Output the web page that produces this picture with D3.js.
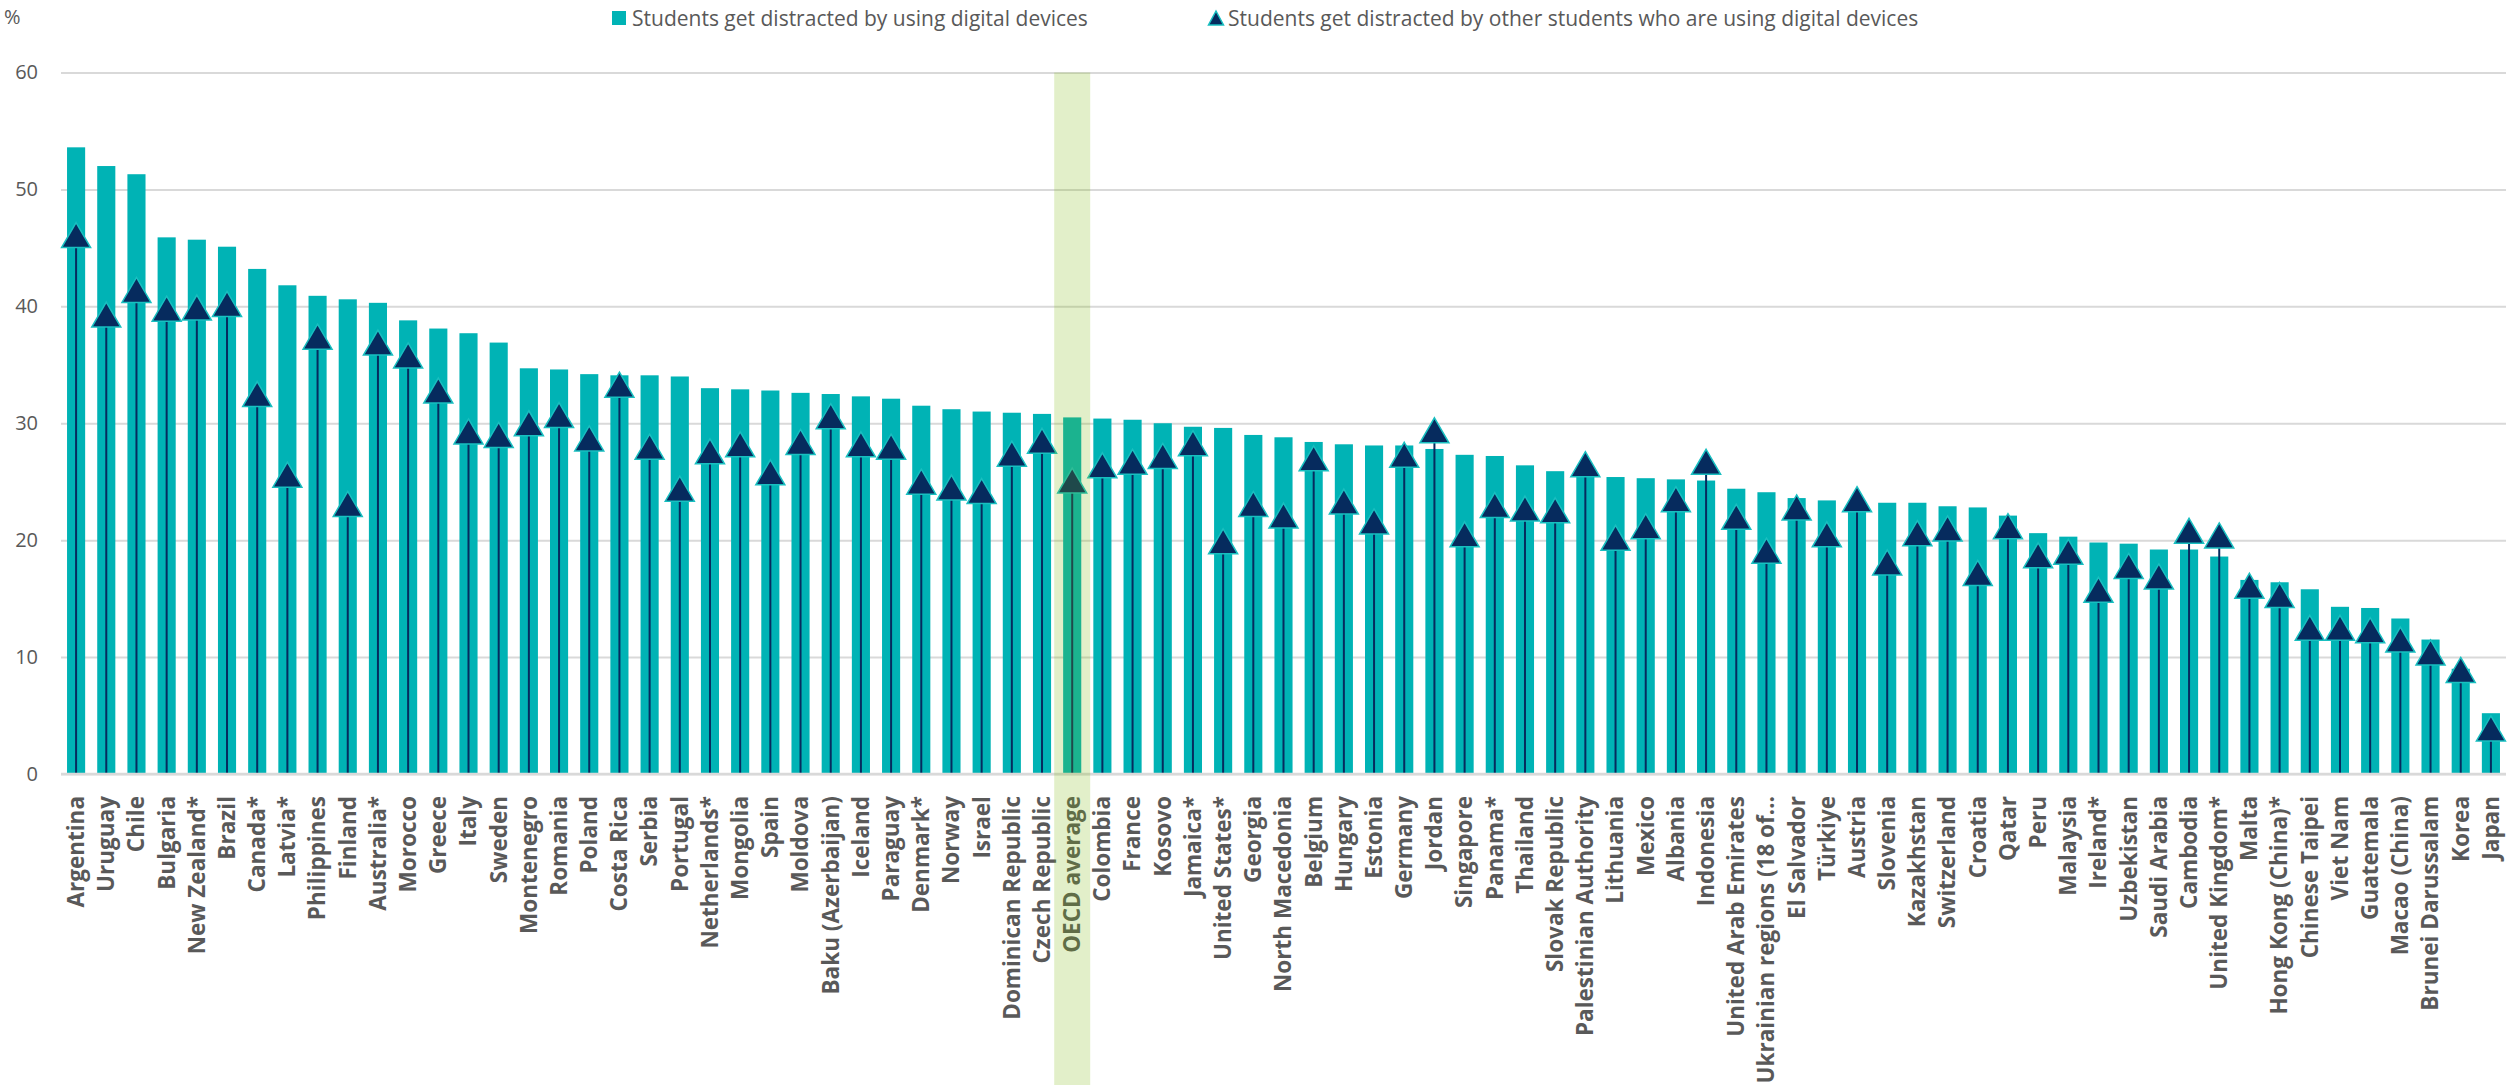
<!DOCTYPE html>
<html>
<head>
<meta charset="utf-8">
<script src="https://cdn.jsdelivr.net/npm/d3@7"></script>
<style>
  html, body { margin: 0; padding: 0; background: #ffffff; }
  svg { display: block; font-family: "Open Sans", "Noto Sans", sans-serif; }
</style>
</head>
<body>
<svg id="chart" width="2514" height="1085"></svg>
<script>
// Countries / economies, sorted by the share of students distracted by using digital devices
const categories = [
  "Argentina", "Uruguay", "Chile", "Bulgaria", "New Zealand*", "Brazil", "Canada*", "Latvia*",
  "Philippines", "Finland", "Australia*", "Morocco", "Greece", "Italy", "Sweden", "Montenegro",
  "Romania", "Poland", "Costa Rica", "Serbia", "Portugal", "Netherlands*", "Mongolia", "Spain",
  "Moldova", "Baku (Azerbaijan)", "Iceland", "Paraguay", "Denmark*", "Norway", "Israel",
  "Dominican Republic", "Czech Republic", "OECD average", "Colombia", "France", "Kosovo",
  "Jamaica*", "United States*", "Georgia", "North Macedonia", "Belgium", "Hungary", "Estonia",
  "Germany", "Jordan", "Singapore", "Panama*", "Thailand", "Slovak Republic",
  "Palestinian Authority", "Lithuania", "Mexico", "Albania", "Indonesia", "United Arab Emirates",
  "Ukrainian regions (18 of\u2026", "El Salvador", "Türkiye", "Austria", "Slovenia", "Kazakhstan",
  "Switzerland", "Croatia", "Qatar", "Peru", "Malaysia", "Ireland*", "Uzbekistan", "Saudi Arabia",
  "Cambodia", "United Kingdom*", "Malta", "Hong Kong (China)*", "Chinese Taipei", "Viet Nam",
  "Guatemala", "Macao (China)", "Brunei Darussalam", "Korea", "Japan"
];

// % of students who get distracted by using digital devices (bars)
const usingDevices = [
  53.6, 52.0, 51.3, 45.9, 45.7, 45.1, 43.2, 41.8,
  40.9, 40.6, 40.3, 38.8, 38.1, 37.7, 36.9, 34.7,
  34.6, 34.2, 34.1, 34.1, 34.0, 33.0, 32.9, 32.8,
  32.6, 32.5, 32.3, 32.1, 31.5, 31.2, 31.0,
  30.9, 30.8, 30.5, 30.4, 30.3, 30.0,
  29.7, 29.6, 29.0, 28.8, 28.4, 28.2, 28.1,
  28.1, 27.8, 27.3, 27.2, 26.4, 25.9,
  25.6, 25.4, 25.3, 25.2, 25.1, 24.4,
  24.1, 23.6, 23.4, 23.3, 23.2, 23.2,
  22.9, 22.8, 22.1, 20.6, 20.3, 19.8, 19.7, 19.2,
  19.2, 18.6, 16.6, 16.4, 15.8, 14.3,
  14.2, 13.3, 11.5, 9.0, 5.2
];

// % of students who get distracted by other students using digital devices (triangles)
const otherStudents = [
  46.1, 39.3, 41.4, 39.8, 39.9, 40.2, 32.5, 25.6,
  37.4, 23.1, 36.9, 35.8, 32.8, 29.3, 29.0, 30.0,
  30.7, 28.7, 33.3, 28.0, 24.4, 27.6, 28.2, 25.8,
  28.4, 30.6, 28.2, 28.0, 25.0, 24.5, 24.2,
  27.4, 28.5, 25.1, 26.4, 26.7, 27.2,
  28.3, 19.9, 23.1, 22.1, 27.0, 23.3, 21.6,
  27.3, 29.4, 20.5, 23.0, 22.7, 22.55,
  26.5, 20.2, 21.2, 23.5, 26.7, 22.0,
  19.1, 22.8, 20.5, 23.5, 18.1, 20.6,
  21.0, 17.2, 21.2, 18.7, 19.0, 15.75, 17.8, 16.9,
  20.8, 20.4, 16.1, 15.3, 12.5, 12.5,
  12.3, 11.5, 10.4, 8.9, 3.9
];

const yTicks = [0, 10, 20, 30, 40, 50, 60];
const legendLabels = [
  "Students get distracted by using digital devices",
  "Students get distracted by other students who are using digital devices"
];
const highlighted = "OECD average";

const TEAL = "#00b3b5";
const NAVY = "#062b5e";
const MARKER_EDGE = "#19bfc0";
const GRID = "#d9d9d9";
const TEXT = "#595959";

const svg = d3.select("#chart");
const plot = { left: 61, right: 2506, top: 72.5, bottom: 774 };

const x = d3.scaleBand()
  .domain(categories)
  .range([plot.left, plot.right])
  .paddingInner(0.4)
  .paddingOuter(0.2);

const y = d3.scaleLinear()
  .domain([0, 60])
  .range([plot.bottom, plot.top]);

// Horizontal gridlines and value labels
const yAxis = d3.axisLeft(y)
  .tickValues(yTicks)
  .tickSize(-(plot.right - plot.left))
  .tickPadding(23);

const gy = svg.append("g")
  .attr("transform", `translate(${plot.left},0)`)
  .call(yAxis);
gy.select(".domain").remove();
gy.selectAll(".tick line").attr("stroke", GRID).attr("stroke-width", 2);
gy.selectAll(".tick text")
  .attr("fill", TEXT)
  .style("font-size", "20px")
  .style("font-family", "'Open Sans', sans-serif");

svg.append("text")
  .attr("x", 4)
  .attr("y", 16)
  .attr("dominant-baseline", "central")
  .attr("fill", TEXT)
  .style("font-size", "20px")
  .text("%");

const rows = categories.map((c, i) => ({ name: c, bar: usingDevices[i], tri: otherStudents[i] }));

// Bars
svg.append("g").selectAll("rect")
  .data(rows)
  .join("rect")
  .attr("x", d => x(d.name))
  .attr("width", x.bandwidth())
  .attr("y", d => y(d.bar))
  .attr("height", d => y(0) - y(d.bar))
  .attr("fill", TEAL);

// Stems from the baseline up to each marker
svg.append("g").selectAll("line")
  .data(rows)
  .join("line")
  .attr("x1", d => x(d.name) + x.bandwidth() / 2)
  .attr("x2", d => x(d.name) + x.bandwidth() / 2)
  .attr("y1", y(0))
  .attr("y2", d => y(d.tri))
  .attr("stroke", NAVY)
  .attr("stroke-width", 2);

// Triangle markers
const triPath = (w, h) => `M0,${-h / 2}L${w / 2},${h / 2}L${-w / 2},${h / 2}Z`;
svg.append("g").selectAll("path")
  .data(rows)
  .join("path")
  .attr("transform", d => `translate(${x(d.name) + x.bandwidth() / 2},${y(d.tri)})`)
  .attr("d", triPath(29, 25))
  .attr("fill", NAVY)
  .attr("stroke", MARKER_EDGE)
  .attr("stroke-width", 1.5)
  .attr("stroke-linejoin", "miter");

// Baseline
svg.append("line")
  .attr("x1", plot.left).attr("x2", plot.right)
  .attr("y1", y(0)).attr("y2", y(0))
  .attr("stroke", GRID).attr("stroke-width", 2.5);

// Category labels
svg.append("g").selectAll("text")
  .data(categories)
  .join("text")
  .attr("transform", d => `translate(${x(d) + x.bandwidth() / 2},796) rotate(-90)`)
  .attr("text-anchor", "end")
  .attr("dy", "0.35em")
  .attr("fill", TEXT)
  .style("font-size", "22.5px")
  .style("font-weight", "700")
  .text(d => d);

// Highlight band for the OECD average
const hx = x(highlighted) + x.bandwidth() / 2;
svg.append("rect")
  .attr("x", hx - 18)
  .attr("width", 36)
  .attr("y", plot.top)
  .attr("height", 1085 - plot.top)
  .attr("fill", "rgb(123,182,9)")
  .attr("fill-opacity", 0.22);

// Legend
const legend = svg.append("g").style("font-size", "21px");
legend.append("rect")
  .attr("x", 612).attr("y", 11).attr("width", 14).attr("height", 14)
  .attr("fill", TEAL);
legend.append("text")
  .attr("x", 632).attr("y", 18)
  .attr("dominant-baseline", "central")
  .attr("fill", TEXT)
  .text(legendLabels[0]);
legend.append("path")
  .attr("transform", "translate(1216,18)")
  .attr("d", triPath(15, 14))
  .attr("fill", NAVY)
  .attr("stroke", MARKER_EDGE)
  .attr("stroke-width", 1.5);
legend.append("text")
  .attr("x", 1228).attr("y", 18)
  .attr("dominant-baseline", "central")
  .attr("fill", TEXT)
  .text(legendLabels[1]);
</script>
</body>
</html>
